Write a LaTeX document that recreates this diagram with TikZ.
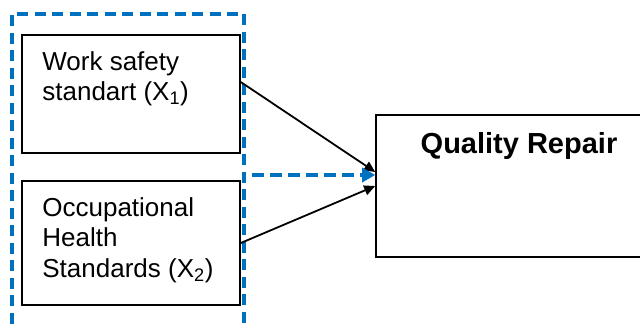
\documentclass[tikz,border=0pt]{standalone}
\usepackage{fontspec}
\setmainfont{Liberation Sans}
\usepackage{tikz}
\usetikzlibrary{arrows.meta,positioning,calc}
\definecolor{wordblue}{HTML}{0070C0}

\begin{document}
\begin{tikzpicture}[
  x=1pt, y=1pt,
  factor/.style={draw=black, line width=1.6pt, inner sep=0pt},
  lab/.style={font=\fontsize{26}{30.5}\selectfont, align=left, inner sep=0pt},
  biglab/.style={font=\fontsize{29}{34}\selectfont\bfseries, inner sep=0pt},
  link/.style={line width=1.8pt, -{Triangle[length=11pt,width=10pt]}},
  bluelink/.style={line width=4pt, wordblue, dash pattern=on 12pt off 6pt,
    -{Triangle[length=13pt,width=14pt]}},
  group/.style={line width=4pt, wordblue, dash pattern=on 11pt off 6.5pt}
]
\useasboundingbox (0,0) rectangle (640,324);

% independent variables
\node[factor, minimum width=218pt, minimum height=118pt] (ws) at (131,230) {};
\node[lab, anchor=north west] (wstxt) at ($(ws.north west)+(21,-17)$)
  {Work safety\\standart (X\textsubscript{1})};

\node[factor, minimum width=218pt, minimum height=124pt] (oh) at (131,81) {};
\node[lab, anchor=north west] (ohtxt) at ($(oh.north west)+(21,-17)$)
  {Occupational\\Health\\Standards (X\textsubscript{2})};

% dependent variable
\node[factor, minimum width=286pt, minimum height=142pt] (qr) at (519,138) {};
\node[biglab, anchor=north] (qrtxt) at ($(qr.north)+(0,-18)$) {Quality Repair};

% dashed group round X1 and X2
\draw[group] (12,0) -- (12,310) -- (244,310) -- (244,0);
\coordinate (gr) at (252,149);

\draw[link] ($(ws.north east)!0.4!(ws.south east)$) -- ($(qr.west)+(0,14)$);
\draw[link] (oh.east) -- (qr.west);
\draw[bluelink] (gr) -- ($(qr.west)+(0,11)$);
\end{tikzpicture}
\end{document}
